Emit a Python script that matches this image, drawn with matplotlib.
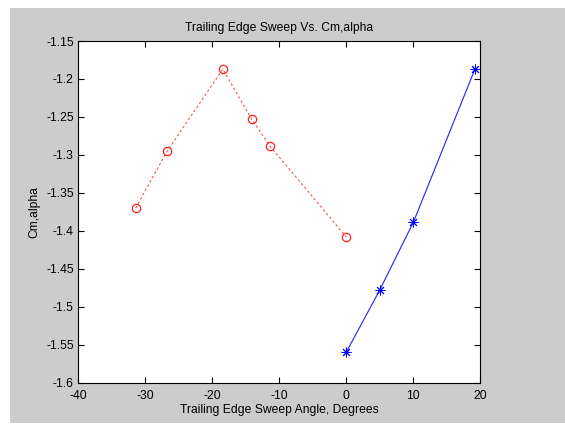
import matplotlib
matplotlib.use("Agg")
import matplotlib.pyplot as plt
from matplotlib.patches import Rectangle

# Trailing edge sweep angle (deg) vs Cm,alpha
sweep_neg = [-31.4, -26.7, -18.4, -14.1, -11.4, 0.0]
cm_neg = [-1.370, -1.295, -1.187, -1.253, -1.288, -1.408]

sweep_pos = [0.0, 5.0, 10.0, 19.2]
cm_pos = [-1.560, -1.478, -1.389, -1.187]

x_ticks = [-40, -30, -20, -10, 0, 10, 20]
y_ticks = [-1.6, -1.55, -1.5, -1.45, -1.4, -1.35, -1.3, -1.25, -1.2, -1.15]
y_tick_labels = ["-1.6", "-1.55", "-1.5", "-1.45", "-1.4", "-1.35", "-1.3", "-1.25", "-1.2", "-1.15"]

plt.rcParams['font.family'] = ['Liberation Sans', 'DejaVu Sans']

W, H = 565, 425
fig = plt.figure(figsize=(W / 100, H / 100), dpi=100, facecolor="white")
fig.patches.append(Rectangle((10 / W, 2 / H), 555 / W, 415 / H, transform=fig.transFigure,
                             facecolor="#cccccc", edgecolor="none", zorder=-10))

ax = fig.add_axes([78 / W, (H - 382.7) / H, (480.3 - 78) / W, (382.7 - 41) / H])
ax.set_zorder(5)
ax.set_facecolor("white")

ax.plot(sweep_neg, cm_neg, linestyle=(0, (2.2, 2.2)), color="#ff5050", linewidth=0.8,
        marker="o", markersize=6, markerfacecolor="none", markeredgecolor="#ff2020",
        markeredgewidth=0.9)
ax.plot(sweep_pos, cm_pos, linestyle="-", color="#2020ff", linewidth=0.8,
        marker=(8, 2, 0), markersize=7, markerfacecolor="none", markeredgecolor="#0000ff",
        markeredgewidth=0.7)

ax.set_xlim(-40, 20)
ax.set_ylim(-1.6, -1.15)
ax.set_xticks(x_ticks)
ax.set_xticklabels([str(t) for t in x_ticks])
ax.set_yticks(y_ticks)
ax.set_yticklabels(y_tick_labels)
ax.tick_params(direction="in", top=True, right=True, length=4, width=0.8,
               labelsize=8.7, colors="black")
ax.tick_params(axis="x", pad=5)
ax.tick_params(axis="y", pad=3)
for s in ax.spines.values():
    s.set_linewidth(0.8)

ax.set_title("Trailing Edge Sweep Vs. Cm,alpha", fontsize=8.7, pad=7)
ax.set_xlabel("Trailing Edge Sweep Angle, Degrees", fontsize=8.7, labelpad=2)
ax.set_ylabel("Cm,alpha", fontsize=8.7, labelpad=4)

fig.savefig("out.png", dpi=100, facecolor="white")
